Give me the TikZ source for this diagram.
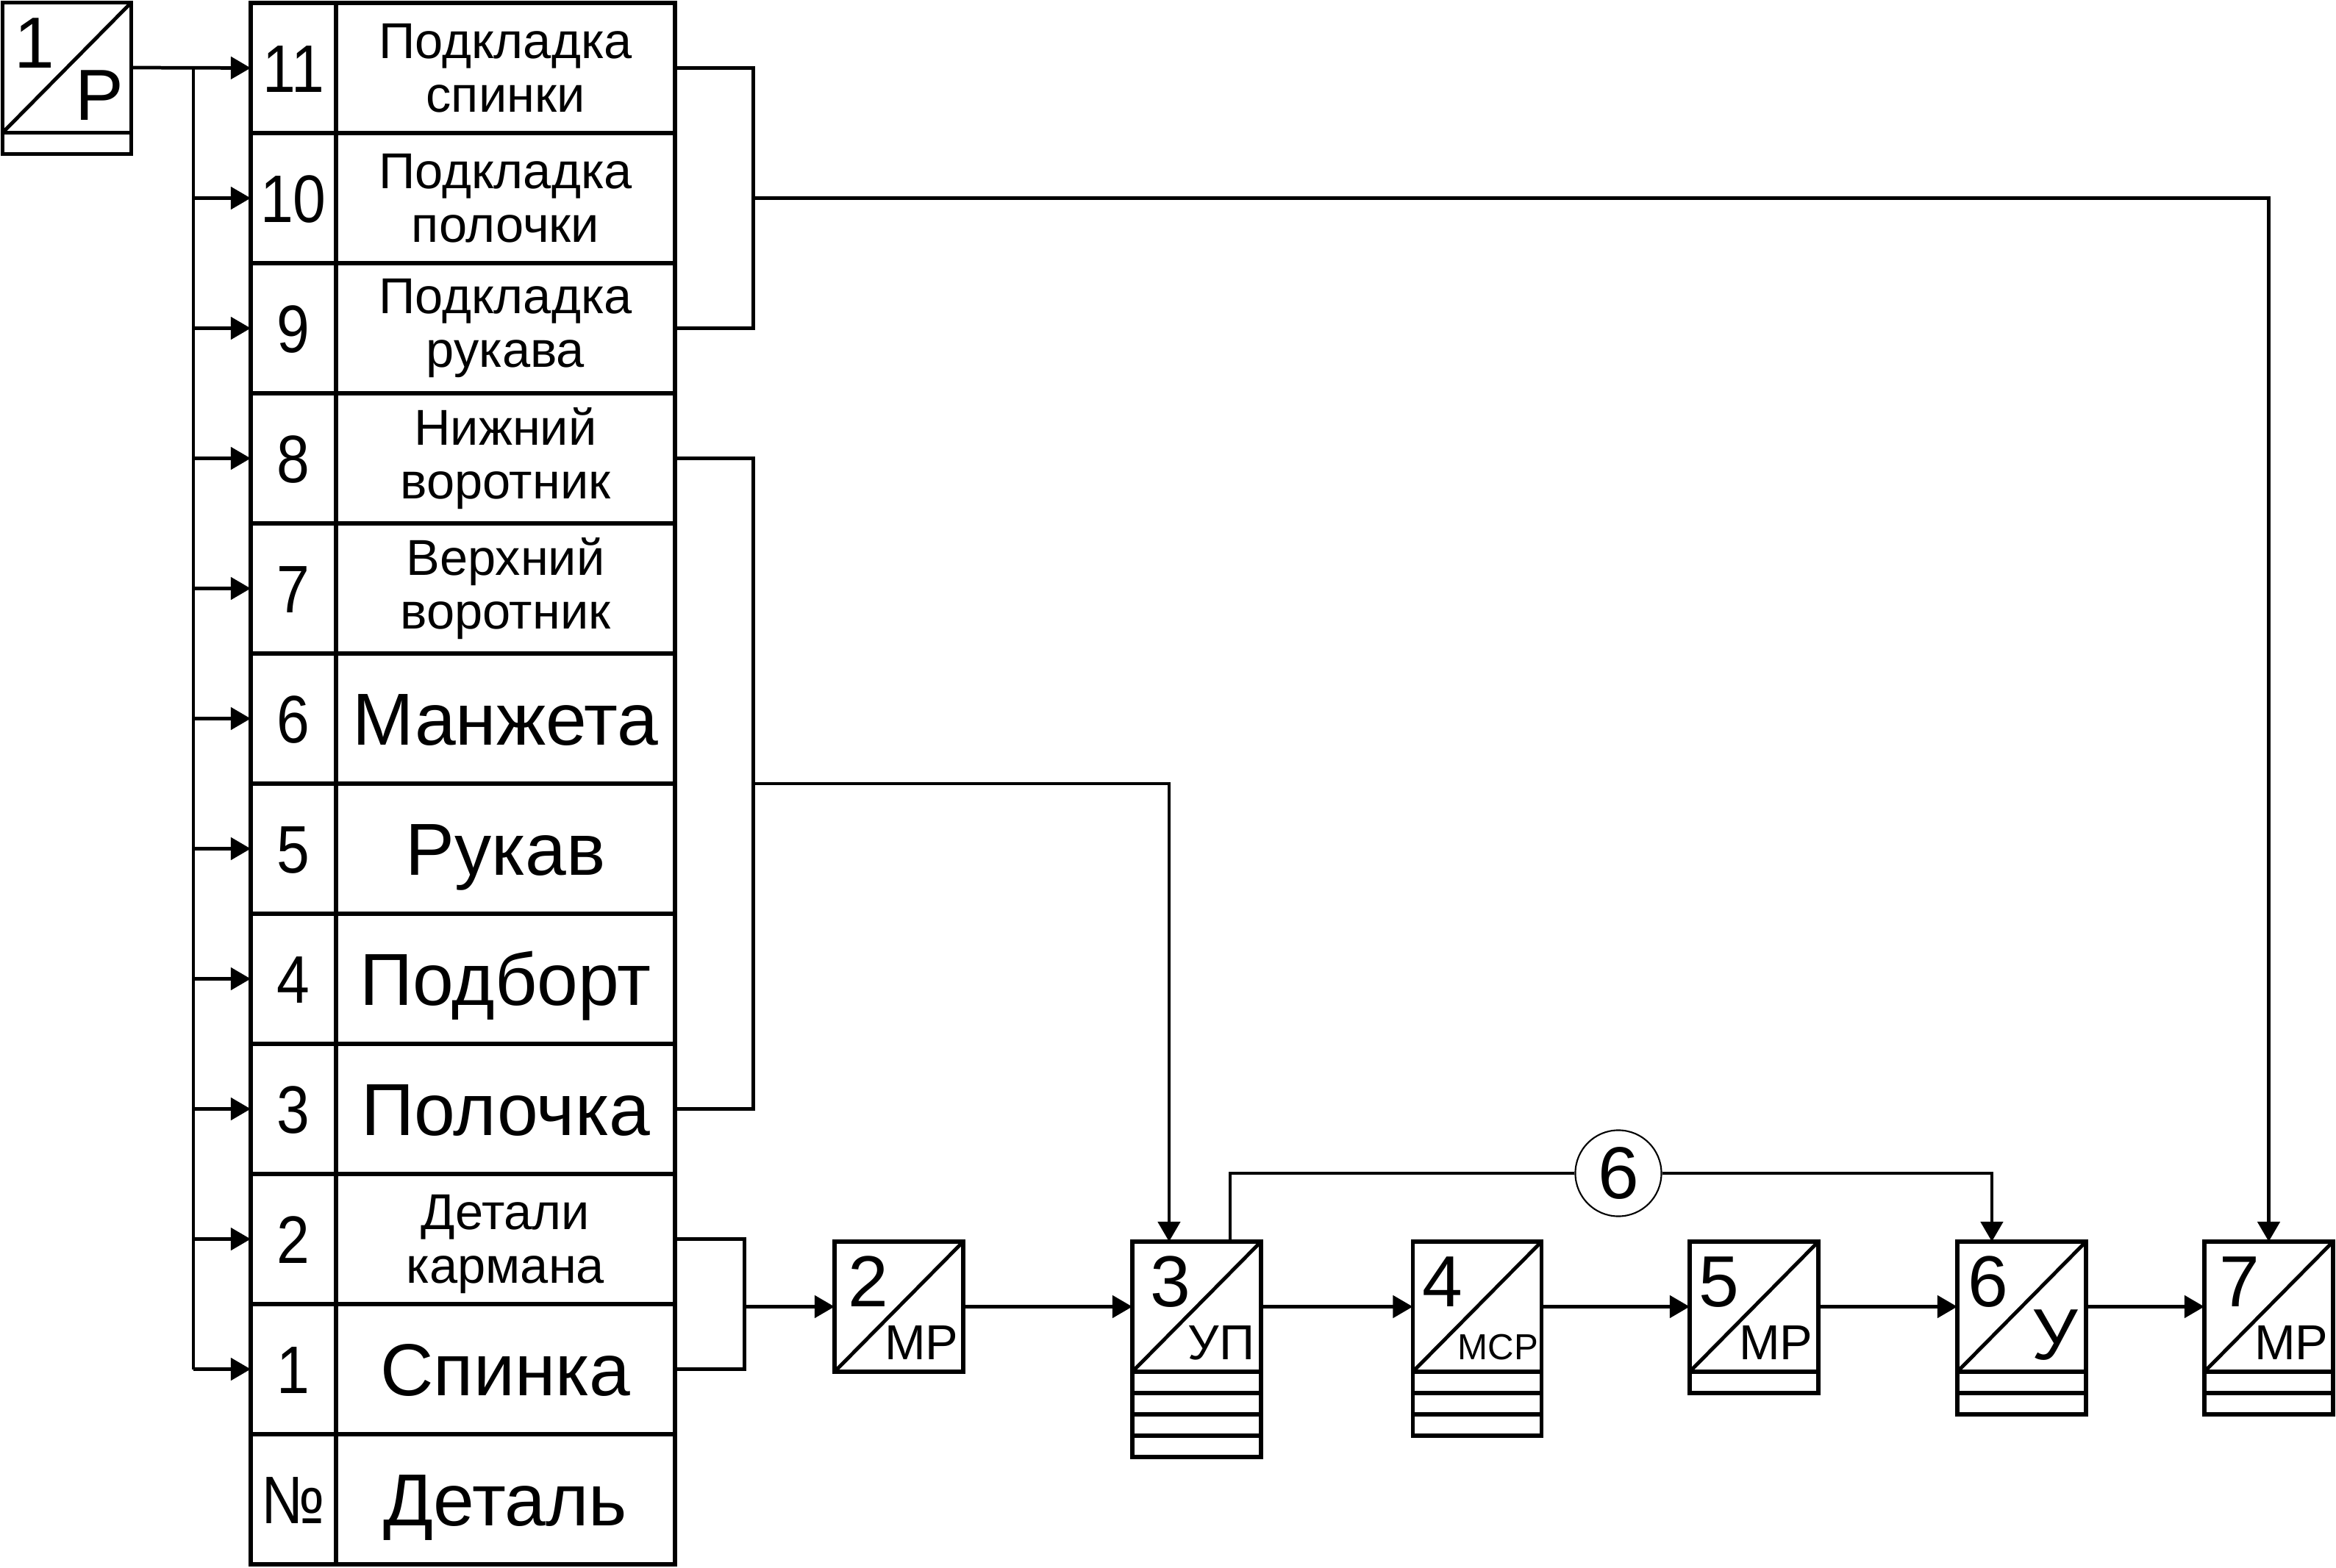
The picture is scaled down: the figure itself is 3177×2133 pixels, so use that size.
\documentclass[tikz,border=0pt]{standalone}
\usepackage{fontspec}
\setmainfont{Liberation Sans}
\newfontfamily\narrowsans[FakeStretch=0.88]{Liberation Sans}
\usetikzlibrary{arrows.meta,calc}
\begin{document}
\begin{tikzpicture}[x=0.01cm,y=-0.01cm,
  conn/.style={line width=1.35pt},
  arr/.style={conn,-{Triangle[length=0.27cm,width=0.30cm]}},
  cell/.style={draw,line width=1.65pt,inner sep=0pt,outer sep=0pt,minimum height=1.77cm},
  numcell/.style={cell,minimum width=1.16cm,font=\narrowsans\fontsize{26}{28}\selectfont,text height=0.66cm,text depth=0cm},
  bigcell/.style={cell,minimum width=4.61cm,font=\fontsize{28.5}{30}\selectfont,text height=0.72cm,text depth=0cm},
  smallcell/.style={cell,minimum width=4.61cm,align=center,font=\fontsize{19.5}{20.8}\selectfont},
  pbox/.style={draw,line width=1.65pt,inner sep=0pt,outer sep=0pt,minimum width=1.75cm,minimum height=1.77cm},
  strip/.style={line width=1.65pt},
  diag/.style={line width=1.4pt},
  pnum/.style={anchor=base west,inner sep=0pt,font=\fontsize{28}{30}\selectfont},
  psuf/.style={anchor=base east,inner sep=0pt,font=\fontsize{19}{21}\selectfont},
]
\useasboundingbox (0,0) rectangle (3177,2133);

% ---- table ----
\node[numcell] (n11) at (399,92.5) {11};
\node[numcell] (n10) at (399,269.5) {10};
\node[numcell] (n9) at (399,446.5) {9};
\node[numcell] (n8) at (399,623.5) {8};
\node[numcell] (n7) at (399,800.5) {7};
\node[numcell] (n6) at (399,977.5) {6};
\node[numcell] (n5) at (399,1154.5) {5};
\node[numcell] (n4) at (399,1331.5) {4};
\node[numcell] (n3) at (399,1508.5) {3};
\node[numcell] (n2) at (399,1685.5) {2};
\node[numcell] (n1) at (399,1862.5) {1};
\node[numcell] (nh) at (399,2039.5) {№};

\node[smallcell] (l11) at (687.5,92.5) {Подкладка\\спинки};
\node[smallcell] (l10) at (687.5,269.5) {Подкладка\\полочки};
\node[smallcell] (l9) at (687.5,446.5) {Подкладка\\рукава};
\node[smallcell] (l8) at (687.5,623.5) {Нижний\\воротник};
\node[smallcell] (l7) at (687.5,800.5) {Верхний\\воротник};
\node[bigcell] (l6) at (687.5,977.5) {Манжета};
\node[bigcell] (l5) at (687.5,1154.5) {Рукав};
\node[bigcell] (l4) at (687.5,1331.5) {Подборт};
\node[bigcell] (l3) at (687.5,1508.5) {Полочка};
\node[smallcell] (l2) at (687.5,1685.5) {Детали\\\smash{кармана}};
\node[bigcell] (l1) at (687.5,1862.5) {Спинка};
\node[bigcell] (lh) at (687.5,2039.5) {Деталь};

% ---- process boxes ----
\node[pbox] (p1) at (91,92) {};
\node[pbox] (p2) at (1222.5,1777.5) {};
\node[pbox] (p3) at (1627.5,1777.5) {};
\node[pbox] (p4) at (2009,1777.5) {};
\node[pbox] (p5) at (2385.5,1777.5) {};
\node[pbox] (p6) at (2749.5,1777.5) {};
\node[pbox] (p7) at (3085.5,1777.5) {};

\foreach \p in {p1,p2,p3,p4,p5,p6,p7}
  \draw[diag] (\p.south west) -- (\p.north east);

\draw[strip] (p1.south west) rectangle ++(175,29);
\foreach \k in {1,...,4}
  \draw[strip] ($(p3.south west)+(0,{(\k-1)*29})$) rectangle ++(175,29);
\foreach \k in {1,...,3}
  \draw[strip] ($(p4.south west)+(0,{(\k-1)*29})$) rectangle ++(175,29);
\draw[strip] (p5.south west) rectangle ++(175,29);
\foreach \k in {1,2}
  \draw[strip] ($(p6.south west)+(0,{(\k-1)*29})$) rectangle ++(175,29);
\foreach \k in {1,2}
  \draw[strip] ($(p7.south west)+(0,{(\k-1)*29})$) rectangle ++(175,29);

% box texts
\node[pnum] (t1n) at ($(p1.north west)+(15,89)$) {1};
\node[psuf,font=\fontsize{28}{30}\selectfont] (t1s) at ($(p1.south east)+(-10,-17)$) {Р};
\node[pnum] (t2n) at ($(p2.north west)+(18,89)$) {2};
\node[psuf] (t2s) at ($(p2.south east)+(-6,-17)$) {МР};
\node[pnum] (t3n) at ($(p3.north west)+(24,89)$) {3};
\node[psuf] (t3s) at ($(p3.south east)+(-8,-17)$) {УП};
\node[pnum] (t4n) at ($(p4.north west)+(12,89)$) {4};
\node[psuf,font=\fontsize{14}{16}\selectfont] (t4s) at ($(p4.south east)+(-4,-17)$) {МСР};
\node[pnum] (t5n) at ($(p5.north west)+(12,89)$) {5};
\node[psuf] (t5s) at ($(p5.south east)+(-7,-17)$) {МР};
\node[pnum] (t6n) at ($(p6.north west)+(14,89)$) {6};
\node[psuf,font=\fontsize{28}{30}\selectfont] (t6s) at ($(p6.south east)+(-10,-17)$) {У};
\node[pnum] (t7n) at ($(p7.north west)+(20,89)$) {7};
\node[psuf] (t7s) at ($(p7.south east)+(-6,-17)$) {МР};

% circle
\node[draw,circle,line width=0.6pt,minimum size=1.17cm,inner sep=0pt,
      font=\fontsize{28.5}{30}\selectfont] (c6) at (2201,1596) {6};

% ---- connectors ----
\coordinate (bus) at ($(p1.east)!0.52!(n11.west)$);
\draw[arr] (p1.east) -- (n11.west);
\draw[conn] (bus) -- (bus |- n1.west);
\foreach \r in {10,9,8,7,6,5,4,3,2,1}
  \draw[arr] (bus |- n\r.west) -- (n\r.west);

\coordinate (b1) at ($(l10.east)+(106,0)$);
\coordinate (b2) at ($(l6.south east)+(106,0)$);
\coordinate (b3x) at ($(l1.east)+(94,0)$);
\coordinate (b3) at (b3x |- p2.west);

\draw[conn] (l11.east) -| (b1) |- (l9.east);
\draw[arr] (b1) -| (p7.north);

\draw[conn] (l8.east) -| (b2) |- (l3.east);
\coordinate (p3a) at ($(p3.north west)+(50,0)$);
\draw[arr] (b2) -| (p3a);

\draw[conn] (l2.east) -| (b3) |- (l1.east);
\draw[arr] (b3) -- (p2.west);

\draw[arr] (p2.east) -- (p3.west);
\draw[arr] (p3.east) -- (p4.west);
\draw[arr] (p4.east) -- (p5.west);
\draw[arr] (p5.east) -- (p6.west);
\draw[arr] (p6.east) -- (p7.west);

\coordinate (p3b) at ($(p3.north west)+(133,0)$);
\coordinate (p6a) at ($(p6.north west)+(47,0)$);
\draw[conn] (p3b) |- (c6.west);
\draw[arr] (c6.east) -| (p6a);
\end{tikzpicture}
\end{document}
